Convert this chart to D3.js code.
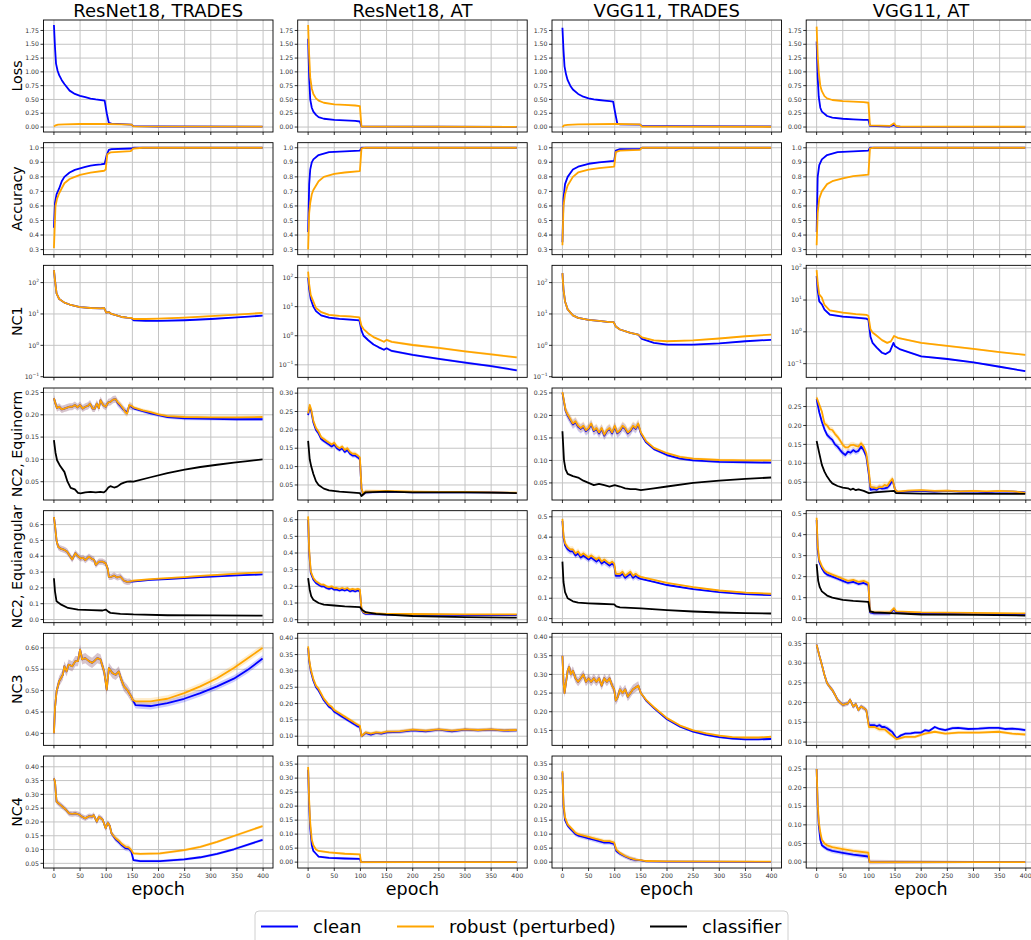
<!DOCTYPE html>
<html>
<head>
<meta charset="utf-8">
<script src="https://cdn.jsdelivr.net/npm/d3@7"></script>
<style>
  body { margin: 0; background: #fff; }
  svg { display: block; font-family: "DejaVu Sans", sans-serif; }
</style>
</head>
<body>
<svg id="fig" width="1031" height="940"></svg>
<script>
const models = ['ResNet18, TRADES', 'ResNet18, AT', 'VGG11, TRADES', 'VGG11, AT']
const metrics = ['Loss', 'Accuracy', 'NC1', 'NC2, Equinorm', 'NC2, Equiangular', 'NC3', 'NC4']
const epochTicks = [0, 50, 100, 150, 200, 250, 300, 350, 400]
const seriesNames = ['clean', 'robust (perturbed)', 'classifier']
const seriesColors = ['#0000ff', '#ffa500', '#000000']

// ---------- LOSS ----------
const lossClean = [
  [[0,1.85],[2,1.45],[4,1.15],[7,1.02],[10,0.94],[15,0.85],[20,0.78],[30,0.66],[40,0.6],[50,0.565],[60,0.54],[70,0.516],[80,0.5],[90,0.488],[97,0.48],[101,0.25],[105,0.075],[110,0.06],[148,0.045],[152,0.015],[200,0.01],[399,0.007]],
  [[0,1.6],[2,0.9],[4,0.5],[7,0.35],[10,0.28],[15,0.22],[20,0.18],[30,0.15],[50,0.13],[70,0.12],[90,0.11],[99,0.1],[102,0.01],[399,0.003]],
  [[0,1.8],[2,1.4],[4,1.1],[7,0.95],[10,0.85],[15,0.75],[20,0.68],[30,0.6],[40,0.55],[50,0.52],[60,0.5],[70,0.49],[80,0.48],[90,0.47],[97,0.46],[101,0.25],[105,0.06],[110,0.05],[148,0.045],[152,0.02],[200,0.015],[399,0.01]],
  [[0,1.55],[2,0.9],[4,0.55],[7,0.35],[10,0.28],[20,0.2],[30,0.17],[50,0.15],[70,0.14],[90,0.13],[99,0.13],[102,0.02],[140,0.01],[148,0.04],[152,0.01],[160,0.005],[399,0.003]]
]
const lossRobust = [
  [[0,0.01],[3,0.03],[8,0.045],[20,0.05],[50,0.055],[100,0.055],[130,0.05],[148,0.045],[152,0.012],[399,0.008]],
  [[0,1.85],[2,1.3],[4,0.9],[7,0.7],[10,0.6],[15,0.52],[20,0.48],[30,0.44],[50,0.41],[70,0.4],[90,0.39],[99,0.38],[102,0.01],[399,0.003]],
  [[0,0.0],[3,0.03],[10,0.04],[30,0.05],[100,0.055],[148,0.05],[152,0.01],[399,0.005]],
  [[0,1.82],[2,1.3],[4,1.0],[7,0.75],[10,0.65],[15,0.56],[20,0.52],[30,0.49],[50,0.47],[70,0.46],[90,0.45],[99,0.44],[102,0.03],[140,0.02],[148,0.07],[152,0.02],[160,0.008],[399,0.005]]
]

// ---------- ACCURACY ----------
const accClean = [
  [[0,0.45],[2,0.62],[5,0.68],[10,0.72],[15,0.77],[20,0.8],[30,0.83],[40,0.848],[50,0.858],[60,0.868],[70,0.877],[80,0.882],[90,0.886],[97,0.89],[101,0.95],[105,0.985],[110,0.99],[148,0.995],[152,1.0],[399,1.0]],
  [[0,0.42],[2,0.75],[4,0.85],[7,0.9],[10,0.92],[20,0.95],[40,0.97],[70,0.975],[99,0.98],[102,1.0],[399,1.0]],
  [[0,0.35],[2,0.65],[5,0.75],[10,0.8],[20,0.85],[30,0.87],[50,0.89],[70,0.9],[99,0.91],[102,0.98],[110,0.99],[148,0.992],[152,1.0],[399,1.0]],
  [[0,0.42],[2,0.8],[5,0.88],[10,0.92],[20,0.95],[40,0.97],[70,0.975],[99,0.98],[102,1.0],[399,1.0]]
]
const accRobust = [
  [[0,0.31],[3,0.6],[6,0.65],[10,0.687],[20,0.756],[30,0.785],[40,0.8],[50,0.813],[70,0.829],[96,0.842],[99,0.85],[102,0.955],[108,0.968],[147,0.977],[152,0.995],[170,1.0],[399,1.0]],
  [[0,0.3],[2,0.55],[4,0.62],[7,0.68],[10,0.71],[20,0.77],[30,0.8],[50,0.82],[70,0.83],[99,0.84],[102,0.995],[110,1.0],[399,1.0]],
  [[0,0.33],[2,0.6],[5,0.68],[10,0.74],[20,0.8],[30,0.83],[50,0.85],[70,0.86],[99,0.87],[102,0.97],[110,0.98],[148,0.985],[152,1.0],[399,1.0]],
  [[0,0.33],[2,0.55],[5,0.65],[10,0.7],[20,0.75],[30,0.77],[50,0.79],[70,0.805],[99,0.815],[102,0.995],[110,1.0],[399,1.0]]
]

// ---------- NC1 (log) ----------
const nc1Clean = [
  [[0,250],[2,120],[5,45],[10,30],[20,23],[30,20],[40,18],[50,16.6],[70,15.5],[90,15],[96,15.5],[100,11],[105,11.5],[110,10],[120,9],[130,8],[140,7.6],[148,7.5],[152,6.3],[175,6.0],[200,6.0],[250,6.3],[300,6.9],[350,7.8],[399,8.8]],
  [[0,100],[2,40],[5,18],[10,10],[15,7],[25,5],[40,4.2],[60,3.8],[80,3.6],[98,3.4],[102,1.5],[106,1.0],[115,0.7],[125,0.5],[135,0.4],[145,0.33],[150,0.37],[160,0.3],[200,0.22],[250,0.16],[300,0.12],[350,0.09],[399,0.065]],
  [[0,200],[2,60],[5,25],[10,14],[20,9],[30,7.5],[50,6.5],[70,6],[90,5.5],[98,5.5],[102,4],[110,3.2],[130,2.5],[145,2.2],[152,1.6],[175,1.2],[200,1.05],[250,1.05],[300,1.15],[350,1.35],[399,1.5]],
  [[0,57],[2,20],[5,9],[10,7.3],[15,5],[25,3.5],[50,3.0],[75,2.8],[95,2.6],[99,2.4],[103,0.7],[107,0.45],[115,0.32],[125,0.22],[132,0.2],[140,0.24],[147,0.45],[150,0.35],[160,0.28],[200,0.17],[250,0.14],[300,0.11],[350,0.08],[399,0.058]]
]
const nc1Robust = [
  [[0,250],[2,120],[5,45],[10,30],[20,23],[30,20],[40,18],[50,16.6],[70,15.5],[90,15],[96,15.5],[100,11],[105,11.5],[110,10],[120,9],[130,8],[140,7.6],[148,7.5],[152,6.9],[175,6.9],[200,7.1],[250,7.7],[300,8.5],[350,9.5],[399,10.8]],
  [[0,160],[2,60],[5,25],[10,15],[15,9],[25,6.5],[40,5.2],[60,4.8],[80,4.6],[98,4.3],[102,2.2],[106,1.7],[115,1.2],[125,0.9],[135,0.75],[145,0.62],[150,0.72],[160,0.62],[200,0.48],[250,0.38],[300,0.29],[350,0.23],[399,0.18]],
  [[0,200],[2,60],[5,25],[10,14],[20,9],[30,7.5],[50,6.5],[70,6],[90,5.5],[98,5.5],[102,4],[110,3.2],[130,2.5],[145,2.2],[152,1.8],[175,1.45],[200,1.35],[250,1.45],[300,1.65],[350,1.95],[399,2.2]],
  [[0,87],[2,35],[5,15],[10,12],[15,7],[25,4.7],[50,4],[75,3.6],[95,3.4],[99,3.2],[103,1.2],[107,0.95],[115,0.75],[125,0.55],[135,0.45],[142,0.5],[148,0.74],[155,0.65],[200,0.45],[250,0.36],[300,0.29],[350,0.23],[399,0.19]]
]

// ---------- NC2 EQUINORM ----------
const equinormClean = [
  [[0,0.237],[3,0.225],[6,0.215],[10,0.218],[15,0.212],[20,0.214],[25,0.216],[30,0.218],[35,0.218],[40,0.222],[45,0.217],[50,0.222],[55,0.214],[60,0.218],[65,0.22],[69,0.225],[74,0.214],[78,0.214],[82,0.225],[86,0.215],[89,0.233],[94,0.222],[99,0.218],[104,0.228],[108,0.229],[113,0.234],[118,0.235],[122,0.226],[127,0.22],[132,0.213],[137,0.208],[140,0.205],[144,0.22],[148,0.218],[153,0.214],[170,0.208],[185,0.203],[200,0.199],[217,0.195],[250,0.192],[300,0.191],[350,0.19],[399,0.19]],
  [[0,0.24],[3,0.262],[6,0.25],[10,0.22],[15,0.2],[20,0.19],[25,0.175],[30,0.17],[35,0.165],[40,0.16],[45,0.155],[50,0.16],[55,0.15],[60,0.145],[65,0.15],[70,0.14],[75,0.145],[80,0.135],[85,0.13],[90,0.13],[95,0.125],[99,0.12],[102,0.04],[105,0.025],[110,0.03],[150,0.032],[200,0.03],[250,0.03],[300,0.03],[350,0.03],[399,0.028]],
  [[0,0.25],[3,0.23],[6,0.21],[10,0.2],[15,0.19],[20,0.18],[25,0.185],[30,0.175],[35,0.17],[40,0.175],[45,0.165],[50,0.17],[55,0.18],[60,0.165],[65,0.17],[70,0.16],[75,0.17],[80,0.155],[85,0.165],[90,0.17],[95,0.16],[100,0.175],[105,0.16],[110,0.165],[115,0.175],[120,0.17],[125,0.16],[130,0.165],[135,0.175],[140,0.17],[145,0.18],[150,0.16],[160,0.14],[175,0.125],[200,0.112],[225,0.104],[250,0.1],[300,0.097],[350,0.096],[399,0.095]],
  [[0,0.27],[5,0.235],[10,0.21],[15,0.19],[20,0.175],[25,0.168],[30,0.162],[35,0.15],[40,0.144],[45,0.135],[50,0.127],[55,0.122],[60,0.131],[65,0.128],[70,0.135],[75,0.13],[80,0.133],[85,0.144],[90,0.135],[95,0.118],[100,0.069],[103,0.03],[110,0.032],[115,0.03],[120,0.036],[125,0.033],[130,0.034],[135,0.036],[140,0.043],[145,0.056],[150,0.03],[155,0.024],[175,0.026],[200,0.027],[225,0.025],[250,0.027],[275,0.025],[300,0.026],[325,0.024],[350,0.026],[375,0.025],[399,0.023]]
]
const equinormRobust = [
  [[0,0.237],[3,0.225],[6,0.215],[10,0.218],[15,0.212],[20,0.214],[25,0.216],[30,0.218],[35,0.218],[40,0.222],[45,0.217],[50,0.222],[55,0.214],[60,0.218],[65,0.22],[69,0.225],[74,0.214],[78,0.214],[82,0.225],[86,0.215],[89,0.233],[94,0.222],[99,0.218],[104,0.228],[108,0.229],[113,0.234],[118,0.235],[122,0.228],[127,0.222],[132,0.215],[137,0.205],[140,0.203],[144,0.222],[148,0.22],[153,0.216],[170,0.21],[185,0.206],[200,0.201],[217,0.197],[250,0.195],[300,0.194],[350,0.194],[399,0.195]],
  [[0,0.245],[3,0.268],[6,0.255],[10,0.225],[15,0.205],[20,0.195],[25,0.18],[30,0.175],[35,0.17],[40,0.165],[45,0.16],[50,0.165],[55,0.155],[60,0.15],[65,0.155],[70,0.145],[75,0.15],[80,0.14],[85,0.135],[90,0.135],[95,0.13],[99,0.125],[102,0.042],[105,0.027],[110,0.032],[150,0.034],[200,0.032],[250,0.031],[300,0.031],[350,0.03],[399,0.029]],
  [[0,0.252],[3,0.232],[6,0.212],[10,0.202],[15,0.192],[20,0.182],[25,0.187],[30,0.177],[35,0.172],[40,0.177],[45,0.167],[50,0.172],[55,0.182],[60,0.167],[65,0.172],[70,0.162],[75,0.172],[80,0.157],[85,0.167],[90,0.172],[95,0.162],[100,0.177],[105,0.162],[110,0.167],[115,0.177],[120,0.172],[125,0.162],[130,0.167],[135,0.177],[140,0.172],[145,0.182],[150,0.162],[160,0.143],[175,0.128],[200,0.116],[225,0.108],[250,0.104],[300,0.101],[350,0.1],[399,0.1]],
  [[0,0.274],[5,0.255],[10,0.237],[15,0.205],[20,0.2],[25,0.19],[30,0.188],[35,0.178],[40,0.17],[45,0.16],[50,0.149],[55,0.142],[60,0.142],[65,0.148],[70,0.149],[75,0.146],[80,0.144],[85,0.153],[90,0.144],[95,0.127],[100,0.078],[103,0.038],[110,0.036],[115,0.034],[120,0.038],[125,0.037],[130,0.043],[135,0.04],[140,0.051],[145,0.059],[150,0.03],[155,0.025],[175,0.028],[200,0.029],[225,0.027],[250,0.028],[275,0.026],[300,0.027],[325,0.026],[350,0.027],[375,0.026],[399,0.022]]
]
const equinormClassifier = [
  [[0,0.143],[3,0.115],[6,0.098],[12,0.085],[20,0.072],[26,0.05],[32,0.036],[40,0.033],[46,0.025],[51,0.024],[60,0.026],[70,0.027],[80,0.026],[89,0.027],[95,0.026],[99,0.029],[104,0.037],[108,0.04],[115,0.037],[121,0.039],[128,0.045],[134,0.048],[140,0.05],[146,0.051],[152,0.05],[185,0.06],[217,0.069],[250,0.077],[280,0.083],[312,0.088],[344,0.093],[370,0.096],[399,0.1]],
  [[0,0.17],[3,0.12],[6,0.1],[10,0.08],[15,0.06],[20,0.05],[30,0.04],[40,0.035],[60,0.032],[80,0.03],[99,0.028],[102,0.02],[110,0.03],[150,0.032],[200,0.03],[300,0.03],[399,0.028]],
  [[0,0.165],[3,0.1],[6,0.08],[10,0.07],[20,0.065],[30,0.062],[40,0.055],[50,0.05],[60,0.045],[70,0.048],[80,0.045],[90,0.042],[100,0.045],[110,0.042],[120,0.038],[130,0.036],[140,0.036],[150,0.034],[175,0.038],[200,0.042],[250,0.05],[300,0.055],[350,0.059],[399,0.062]],
  [[0,0.159],[5,0.127],[10,0.096],[15,0.078],[20,0.065],[25,0.055],[30,0.047],[40,0.04],[50,0.036],[60,0.034],[65,0.03],[70,0.033],[75,0.029],[80,0.031],[90,0.027],[100,0.021],[110,0.023],[130,0.025],[148,0.027],[152,0.021],[200,0.02],[399,0.019]]
]

// ---------- NC2 EQUIANGULAR ----------
const equiangClean = [
  [[0,0.648],[2,0.596],[5,0.5],[8,0.46],[12,0.45],[20,0.44],[25,0.43],[29,0.41],[35,0.38],[41,0.42],[46,0.4],[51,0.387],[56,0.39],[60,0.376],[67,0.397],[72,0.385],[77,0.376],[80,0.345],[86,0.366],[93,0.366],[99,0.355],[103,0.32],[105,0.27],[110,0.27],[115,0.278],[121,0.266],[127,0.272],[134,0.245],[140,0.238],[145,0.24],[150,0.24],[185,0.25],[217,0.256],[249,0.262],[280,0.268],[312,0.273],[350,0.279],[399,0.285]],
  [[0,0.6],[2,0.4],[5,0.28],[10,0.24],[15,0.22],[20,0.21],[25,0.2],[30,0.2],[35,0.19],[40,0.185],[45,0.19],[50,0.18],[55,0.18],[60,0.175],[65,0.18],[70,0.175],[75,0.18],[80,0.17],[85,0.175],[90,0.17],[95,0.175],[99,0.17],[102,0.06],[106,0.04],[110,0.035],[150,0.03],[200,0.03],[300,0.028],[399,0.028]],
  [[0,0.48],[2,0.4],[5,0.36],[10,0.34],[15,0.33],[20,0.33],[25,0.31],[30,0.32],[35,0.3],[40,0.31],[45,0.3],[50,0.29],[55,0.3],[60,0.29],[65,0.28],[70,0.29],[75,0.27],[80,0.28],[85,0.27],[90,0.26],[95,0.27],[99,0.26],[102,0.21],[110,0.21],[115,0.22],[120,0.2],[125,0.21],[130,0.22],[135,0.2],[140,0.21],[145,0.2],[150,0.195],[175,0.18],[200,0.165],[250,0.145],[300,0.13],[350,0.12],[399,0.115]],
  [[0,0.47],[2,0.33],[5,0.27],[10,0.24],[15,0.22],[20,0.21],[30,0.2],[40,0.19],[50,0.18],[60,0.17],[70,0.175],[80,0.165],[90,0.17],[99,0.16],[102,0.03],[110,0.025],[140,0.025],[148,0.045],[152,0.03],[200,0.025],[300,0.022],[399,0.02]]
]
const equiangRobust = [
  [[0,0.648],[2,0.596],[5,0.5],[8,0.46],[12,0.45],[20,0.44],[25,0.43],[29,0.41],[35,0.38],[41,0.42],[46,0.4],[51,0.387],[56,0.39],[60,0.376],[67,0.397],[72,0.385],[77,0.376],[80,0.345],[86,0.366],[93,0.366],[99,0.355],[103,0.32],[105,0.27],[110,0.27],[115,0.278],[121,0.266],[127,0.272],[134,0.245],[140,0.238],[145,0.24],[150,0.245],[185,0.255],[217,0.262],[249,0.268],[280,0.276],[312,0.282],[350,0.29],[399,0.298]],
  [[0,0.62],[2,0.42],[5,0.29],[10,0.25],[15,0.23],[20,0.22],[25,0.21],[30,0.21],[35,0.2],[40,0.195],[45,0.2],[50,0.19],[55,0.19],[60,0.185],[65,0.19],[70,0.185],[75,0.19],[80,0.18],[85,0.185],[90,0.18],[95,0.185],[99,0.18],[102,0.065],[106,0.045],[110,0.04],[150,0.035],[200,0.034],[300,0.032],[399,0.032]],
  [[0,0.49],[2,0.41],[5,0.37],[10,0.35],[15,0.34],[20,0.34],[25,0.32],[30,0.33],[35,0.31],[40,0.32],[45,0.31],[50,0.3],[55,0.31],[60,0.3],[65,0.29],[70,0.3],[75,0.28],[80,0.29],[85,0.28],[90,0.27],[95,0.28],[99,0.27],[102,0.22],[110,0.22],[115,0.23],[120,0.21],[125,0.22],[130,0.23],[135,0.21],[140,0.22],[145,0.21],[150,0.205],[175,0.19],[200,0.175],[250,0.155],[300,0.138],[350,0.128],[399,0.122]],
  [[0,0.48],[2,0.35],[5,0.28],[10,0.25],[15,0.23],[20,0.22],[30,0.21],[40,0.2],[50,0.19],[60,0.18],[70,0.185],[80,0.175],[90,0.18],[99,0.17],[102,0.035],[110,0.03],[140,0.03],[148,0.05],[152,0.035],[200,0.03],[300,0.028],[399,0.025]]
]
const equiangClassifier = [
  [[0,0.261],[2,0.178],[5,0.115],[14,0.094],[27,0.073],[46,0.063],[72,0.059],[93,0.057],[99,0.063],[104,0.05],[108,0.042],[127,0.036],[152,0.032],[217,0.027],[300,0.026],[399,0.025]],
  [[0,0.25],[3,0.18],[6,0.14],[10,0.12],[20,0.1],[30,0.09],[50,0.085],[70,0.08],[99,0.075],[103,0.06],[110,0.045],[130,0.035],[150,0.03],[200,0.022],[300,0.015],[399,0.012]],
  [[0,0.28],[2,0.18],[5,0.13],[10,0.1],[20,0.085],[30,0.078],[50,0.075],[70,0.073],[99,0.07],[103,0.06],[110,0.055],[150,0.05],[200,0.042],[250,0.035],[300,0.03],[350,0.027],[399,0.025]],
  [[0,0.26],[3,0.18],[6,0.15],[10,0.13],[20,0.11],[30,0.1],[50,0.09],[70,0.085],[99,0.08],[102,0.035],[110,0.03],[150,0.025],[200,0.02],[300,0.018],[399,0.015]]
]

// ---------- NC3 ----------
const nc3Clean = [
  [[0,0.4],[2,0.459],[5,0.498],[10,0.522],[17,0.537],[20,0.557],[24,0.545],[28,0.561],[35,0.557],[41,0.569],[46,0.569],[50,0.596],[54,0.573],[60,0.576],[67,0.569],[73,0.565],[78,0.57],[83,0.576],[89,0.573],[96,0.545],[101,0.502],[105,0.553],[112,0.541],[118,0.537],[124,0.545],[129,0.525],[134,0.51],[140,0.502],[146,0.49],[151,0.478],[156,0.466],[185,0.464],[217,0.471],[249,0.481],[280,0.494],[312,0.51],[344,0.528],[370,0.548],[399,0.575]],
  [[0,0.37],[2,0.33],[5,0.3],[10,0.27],[15,0.25],[20,0.24],[25,0.225],[30,0.21],[35,0.2],[40,0.19],[45,0.185],[50,0.175],[55,0.17],[60,0.165],[65,0.16],[70,0.155],[75,0.15],[80,0.145],[85,0.14],[90,0.135],[95,0.13],[99,0.128],[102,0.1],[106,0.105],[110,0.11],[120,0.105],[130,0.11],[140,0.108],[150,0.112],[175,0.113],[200,0.118],[225,0.115],[250,0.12],[275,0.115],[300,0.12],[325,0.118],[350,0.12],[375,0.117],[399,0.118]],
  [[0,0.35],[2,0.28],[4,0.25],[7,0.28],[10,0.31],[13,0.32],[16,0.3],[20,0.31],[25,0.29],[30,0.28],[35,0.29],[40,0.3],[45,0.28],[50,0.29],[55,0.28],[60,0.29],[65,0.28],[70,0.29],[75,0.27],[80,0.29],[85,0.28],[90,0.29],[95,0.27],[99,0.26],[102,0.23],[106,0.24],[110,0.26],[115,0.25],[120,0.26],[125,0.24],[130,0.25],[135,0.26],[140,0.265],[145,0.27],[150,0.25],[160,0.23],[175,0.21],[200,0.18],[225,0.16],[250,0.147],[275,0.138],[300,0.132],[325,0.128],[350,0.126],[375,0.126],[399,0.127]],
  [[0,0.347],[5,0.32],[10,0.296],[15,0.27],[20,0.249],[25,0.24],[30,0.232],[35,0.22],[40,0.207],[45,0.2],[50,0.194],[55,0.196],[60,0.198],[64,0.207],[70,0.19],[75,0.196],[80,0.181],[85,0.19],[90,0.186],[95,0.181],[100,0.143],[105,0.143],[110,0.143],[115,0.14],[120,0.143],[125,0.138],[130,0.138],[135,0.135],[140,0.13],[145,0.125],[153,0.109],[160,0.116],[169,0.121],[180,0.122],[188,0.124],[200,0.124],[207,0.13],[215,0.128],[226,0.138],[235,0.133],[246,0.13],[260,0.135],[271,0.136],[290,0.133],[310,0.134],[330,0.136],[348,0.136],[360,0.133],[374,0.134],[390,0.132],[399,0.13]]
]
const nc3Robust = [
  [[0,0.4],[2,0.459],[5,0.498],[10,0.522],[17,0.537],[20,0.557],[24,0.545],[28,0.561],[35,0.557],[41,0.569],[46,0.569],[50,0.596],[54,0.573],[60,0.576],[67,0.569],[73,0.565],[78,0.57],[83,0.576],[89,0.573],[96,0.545],[101,0.502],[105,0.553],[112,0.541],[118,0.537],[124,0.545],[129,0.525],[134,0.51],[140,0.502],[146,0.49],[151,0.478],[156,0.475],[185,0.475],[217,0.481],[249,0.494],[280,0.51],[312,0.529],[344,0.553],[370,0.575],[399,0.6]],
  [[0,0.375],[2,0.335],[5,0.305],[10,0.275],[15,0.255],[20,0.245],[25,0.23],[30,0.215],[35,0.205],[40,0.195],[45,0.19],[50,0.18],[55,0.175],[60,0.17],[65,0.165],[70,0.16],[75,0.155],[80,0.15],[85,0.145],[90,0.14],[95,0.135],[99,0.132],[102,0.1],[106,0.106],[110,0.112],[120,0.108],[130,0.112],[140,0.11],[150,0.114],[175,0.115],[200,0.12],[225,0.117],[250,0.121],[275,0.117],[300,0.121],[325,0.119],[350,0.121],[375,0.118],[399,0.119]],
  [[0,0.35],[2,0.28],[4,0.25],[7,0.28],[10,0.31],[13,0.32],[16,0.3],[20,0.31],[25,0.29],[30,0.28],[35,0.29],[40,0.3],[45,0.28],[50,0.29],[55,0.28],[60,0.29],[65,0.28],[70,0.29],[75,0.27],[80,0.29],[85,0.28],[90,0.29],[95,0.27],[99,0.26],[102,0.23],[106,0.24],[110,0.26],[115,0.25],[120,0.26],[125,0.24],[130,0.25],[135,0.26],[140,0.265],[145,0.27],[150,0.25],[160,0.232],[175,0.212],[200,0.183],[225,0.163],[250,0.15],[275,0.142],[300,0.136],[325,0.132],[350,0.131],[375,0.131],[399,0.133]],
  [[0,0.347],[5,0.32],[10,0.296],[15,0.27],[20,0.249],[25,0.24],[30,0.232],[35,0.22],[40,0.207],[45,0.2],[50,0.194],[55,0.196],[60,0.198],[64,0.207],[70,0.19],[75,0.196],[80,0.181],[85,0.19],[90,0.186],[95,0.181],[100,0.138],[111,0.138],[120,0.132],[130,0.132],[140,0.121],[153,0.107],[169,0.113],[188,0.113],[207,0.121],[226,0.126],[246,0.121],[271,0.124],[310,0.124],[348,0.126],[374,0.121],[399,0.119]]
]

// ---------- NC4 ----------
const nc4Clean = [
  [[0,0.358],[2,0.346],[5,0.273],[13,0.261],[22,0.246],[29,0.231],[35,0.229],[41,0.231],[48,0.227],[54,0.219],[60,0.213],[67,0.221],[73,0.219],[76,0.225],[82,0.201],[86,0.219],[93,0.209],[99,0.177],[103,0.197],[107,0.185],[110,0.159],[118,0.137],[124,0.127],[130,0.115],[137,0.105],[143,0.103],[148,0.093],[152,0.062],[165,0.058],[203,0.058],[249,0.064],[280,0.072],[312,0.084],[344,0.101],[399,0.135]],
  [[0,0.33],[2,0.2],[4,0.12],[7,0.06],[10,0.04],[15,0.03],[20,0.02],[40,0.015],[70,0.013],[99,0.012],[101,0.0],[399,0.0]],
  [[0,0.32],[2,0.2],[5,0.15],[10,0.13],[15,0.12],[20,0.11],[25,0.1],[30,0.095],[40,0.09],[50,0.085],[60,0.08],[70,0.075],[80,0.07],[90,0.07],[99,0.065],[103,0.04],[110,0.03],[120,0.02],[130,0.012],[140,0.008],[150,0.006],[160,0.003],[200,0.002],[399,0.001]],
  [[0,0.25],[2,0.15],[4,0.1],[7,0.06],[10,0.045],[15,0.04],[20,0.035],[30,0.03],[50,0.025],[70,0.02],[99,0.015],[101,0.0],[399,0.0]]
]
const nc4Robust = [
  [[0,0.358],[2,0.346],[5,0.273],[13,0.261],[22,0.246],[29,0.231],[35,0.229],[41,0.231],[48,0.227],[54,0.219],[60,0.213],[67,0.221],[73,0.219],[76,0.225],[82,0.201],[86,0.219],[93,0.209],[99,0.177],[103,0.197],[107,0.185],[110,0.159],[118,0.141],[124,0.132],[130,0.12],[137,0.11],[143,0.108],[148,0.098],[152,0.086],[165,0.084],[203,0.086],[249,0.098],[280,0.11],[312,0.128],[344,0.149],[399,0.185]],
  [[0,0.34],[2,0.22],[4,0.14],[7,0.08],[10,0.06],[15,0.045],[20,0.04],[40,0.035],[70,0.03],[99,0.028],[101,0.0],[399,0.0]],
  [[0,0.325],[2,0.21],[5,0.16],[10,0.135],[15,0.125],[20,0.115],[25,0.105],[30,0.1],[40,0.095],[50,0.09],[60,0.085],[70,0.08],[80,0.075],[90,0.075],[99,0.07],[103,0.045],[110,0.033],[120,0.022],[130,0.014],[140,0.009],[150,0.007],[160,0.004],[200,0.003],[399,0.002]],
  [[0,0.25],[2,0.16],[4,0.11],[7,0.08],[10,0.06],[15,0.05],[20,0.045],[30,0.04],[50,0.035],[70,0.03],[99,0.025],[101,0.0],[399,0.0]]
]

// spread (std) of the runs: [before epoch 150, after]
const lossSd = [[0.004, 0.002], [0.004, 0.002], [0.004, 0.002], [0.004, 0.002]]
const accSd = [[0.003, 0.001], [0.003, 0.001], [0.003, 0.001], [0.003, 0.001]]
const nc1Sd = [[0.06, 0.05], [0.08, 0.1], [0.06, 0.05], [0.08, 0.07]] // relative
const equinormSd = [[0.008, 0.004], [0.006, 0.002], [0.01, 0.003], [0.008, 0.003]]
const equiangSd = [[0.02, 0.005], [0.01, 0.003], [0.015, 0.004], [0.01, 0.003]]
const nc3Sd = [[0.012, 0.008], [0.006, 0.006], [0.012, 0.003], [0.006, 0.004]]
const nc4Sd = [[0.01, 0.005], [0.004, 0.001], [0.008, 0.002], [0.006, 0.001]]

// y limits and ticks for each panel
const lossDomain = [[-0.09, 1.94], [-0.09, 1.94], [-0.09, 1.94], [-0.09, 1.94]]
const lossTicks = [0, 0.25, 0.5, 0.75, 1.0, 1.25, 1.5, 1.75]
const accDomain = [[0.265, 1.035], [0.265, 1.035], [0.265, 1.035], [0.265, 1.035]]
const accTicks = [0.3, 0.4, 0.5, 0.6, 0.7, 0.8, 0.9, 1.0]
const nc1Domain = [[-1.02, 2.55], [-1.43, 2.42], [-1.02, 2.55], [-1.43, 2.09]] // log10
const nc1Ticks = [0.1, 1, 10, 100]
const equinormDomain = [[0.009, 0.26], [0.009, 0.314], [0.012, 0.261], [0.003, 0.299]]
const equinormTicks = [0.05, 0.1, 0.15, 0.2, 0.25, 0.3]
const equiangDomain = [[-0.02, 0.688], [-0.018, 0.654], [-0.02, 0.53], [-0.019, 0.514]]
const equiangTicks = [0, 0.1, 0.2, 0.3, 0.4, 0.5, 0.6]
const nc3Domain = [[0.372, 0.634], [0.072, 0.415], [0.11, 0.41], [0.0915, 0.3756]]
const nc3Ticks = [0.1, 0.15, 0.2, 0.25, 0.3, 0.35, 0.4, 0.45, 0.5, 0.55, 0.6]
const nc4Domain = [[0.033, 0.439], [-0.021, 0.379], [-0.021, 0.379], [-0.016, 0.285]]
const nc4Ticks = [0, 0.05, 0.1, 0.15, 0.2, 0.25, 0.3, 0.35, 0.4]

const rows = [
  { clean: lossClean, robust: lossRobust, sd: lossSd, domain: lossDomain, ticks: lossTicks, fmt: '.2f' },
  { clean: accClean, robust: accRobust, sd: accSd, domain: accDomain, ticks: accTicks, fmt: '.1f' },
  { clean: nc1Clean, robust: nc1Robust, sd: nc1Sd, domain: nc1Domain, ticks: nc1Ticks, log: true },
  { clean: equinormClean, robust: equinormRobust, classifier: equinormClassifier, sd: equinormSd, domain: equinormDomain, ticks: equinormTicks, fmt: '.2f' },
  { clean: equiangClean, robust: equiangRobust, classifier: equiangClassifier, sd: equiangSd, domain: equiangDomain, ticks: equiangTicks, fmt: '.1f' },
  { clean: nc3Clean, robust: nc3Robust, sd: nc3Sd, domain: nc3Domain, ticks: nc3Ticks, fmt: '.2f' },
  { clean: nc4Clean, robust: nc4Robust, sd: nc4Sd, domain: nc4Domain, ticks: nc4Ticks, fmt: '.2f' }
]

// LAYOUT
const colX = [43.5, 297.7, 552, 806.2]
const rowY = d3.range(7).map(i => 20 + i * 122.67)
const W = 229.5, H = 112

const svg = d3.select('#fig')
const x = d3.scaleLinear().domain([-19.95, 418.95]).range([0, W])

rows.forEach((row, r) => {
  models.forEach((model, c) => {
    const g = svg.append('g').attr('transform', `translate(${colX[c]},${rowY[r]})`)

    let y
    if (row.log) {
      y = d3.scaleLog().domain(row.domain[c].map(e => Math.pow(10, e))).range([H, 0])
    } else {
      y = d3.scaleLinear().domain(row.domain[c]).range([H, 0])
    }
    const [lo, hi] = y.domain()
    const yTicks = row.ticks.filter(t => t >= lo - 1e-9 && t <= hi + 1e-9)

    // GRID
    g.append('g').selectAll('line').data(epochTicks).join('line')
      .attr('x1', d => x(d)).attr('x2', d => x(d))
      .attr('y1', 0).attr('y2', H)
      .attr('stroke', '#c4c4c4').attr('stroke-width', 1)
    g.append('g').selectAll('line').data(yTicks).join('line')
      .attr('x1', 0).attr('x2', W)
      .attr('y1', d => y(d)).attr('y2', d => y(d))
      .attr('stroke', '#c4c4c4').attr('stroke-width', 1)

    // CLIP
    const clipId = `clip-${r}-${c}`
    g.append('clipPath').attr('id', clipId)
      .append('rect').attr('width', W).attr('height', H)
    const plot = g.append('g').attr('clip-path', `url(#${clipId})`)

    const sdAt = e => row.sd[c][e < 150 ? 0 : 1]
    const band = d3.area()
      .x(d => x(d[0]))
      .y0(d => row.log ? y(d[1] / (1 + sdAt(d[0]))) : y(d[1] - sdAt(d[0])))
      .y1(d => row.log ? y(d[1] * (1 + sdAt(d[0]))) : y(d[1] + sdAt(d[0])))
    const line = d3.line().x(d => x(d[0])).y(d => y(d[1]))

    const series = [row.clean[c], row.robust[c], row.classifier ? row.classifier[c] : null]

    series.forEach((s, i) => {
      if (!s || i === 2) return
      plot.append('path').datum(s)
        .attr('d', band)
        .attr('fill', seriesColors[i])
        .attr('fill-opacity', 0.2)
    })
    series.forEach((s, i) => {
      if (!s) return
      plot.append('path').datum(s)
        .attr('d', line)
        .attr('fill', 'none')
        .attr('stroke', seriesColors[i])
        .attr('stroke-width', 1.8)
        .attr('stroke-linejoin', 'round')
    })

    // FRAME
    g.append('rect').attr('width', W).attr('height', H)
      .attr('fill', 'none').attr('stroke', '#000').attr('stroke-width', 0.9)

    // X TICKS
    g.append('g').selectAll('line').data(epochTicks).join('line')
      .attr('x1', d => x(d)).attr('x2', d => x(d))
      .attr('y1', H).attr('y2', H + 3)
      .attr('stroke', '#000').attr('stroke-width', 0.8)
    if (r === rows.length - 1) {
      g.append('g').selectAll('text').data(epochTicks).join('text')
        .attr('x', d => x(d)).attr('y', H + 9.5)
        .attr('text-anchor', 'middle')
        .attr('font-size', 6.2).attr('fill', '#333')
        .text(d => d)
      g.append('text')
        .attr('x', W / 2).attr('y', H + 26.5)
        .attr('text-anchor', 'middle')
        .attr('font-size', 17.5)
        .text('epoch')
    }

    // Y TICKS
    g.append('g').selectAll('line').data(yTicks).join('line')
      .attr('x1', -3).attr('x2', 0)
      .attr('y1', d => y(d)).attr('y2', d => y(d))
      .attr('stroke', '#000').attr('stroke-width', 0.8)
    const labels = g.append('g').selectAll('text').data(yTicks).join('text')
      .attr('x', -4.5).attr('y', d => y(d) + 2.2)
      .attr('text-anchor', 'end')
      .attr('font-size', 6.2).attr('fill', '#333')
    if (row.log) {
      labels.each(function(d) {
        const t = d3.select(this)
        t.append('tspan').text('10')
        t.append('tspan').attr('dy', -3).attr('font-size', 4.4).text(Math.round(Math.log10(d)).toString().replace('-', '\u2212'))
      })
    } else {
      labels.text(d => d3.format(row.fmt)(d))
    }

    // TITLES
    if (r === 0) {
      g.append('text')
        .attr('x', W / 2).attr('y', -3.5)
        .attr('text-anchor', 'middle')
        .attr('font-size', 18)
        .text(model)
    }
    if (c === 0) {
      g.append('text')
        .attr('transform', `translate(-22,${H / 2}) rotate(-90)`)
        .attr('text-anchor', 'middle')
        .attr('font-size', 14.2)
        .text(metrics[r])
    }
  })
})

// LEGEND
const legend = svg.append('g').attr('transform', 'translate(255,911)')
legend.append('rect')
  .attr('width', 533).attr('height', 40).attr('rx', 4)
  .attr('fill', '#fff').attr('stroke', '#d0d0d0').attr('stroke-width', 1)
const legendX = [6, 142, 395]
seriesNames.forEach((name, i) => {
  const item = legend.append('g').attr('transform', `translate(${legendX[i]},15.5)`)
  item.append('line').attr('x1', 0).attr('x2', 37)
    .attr('stroke', seriesColors[i]).attr('stroke-width', 1.8)
  item.append('text').attr('x', 52).attr('y', 6.3)
    .attr('font-size', 18)
    .text(name)
})
</script>
</body>
</html>
